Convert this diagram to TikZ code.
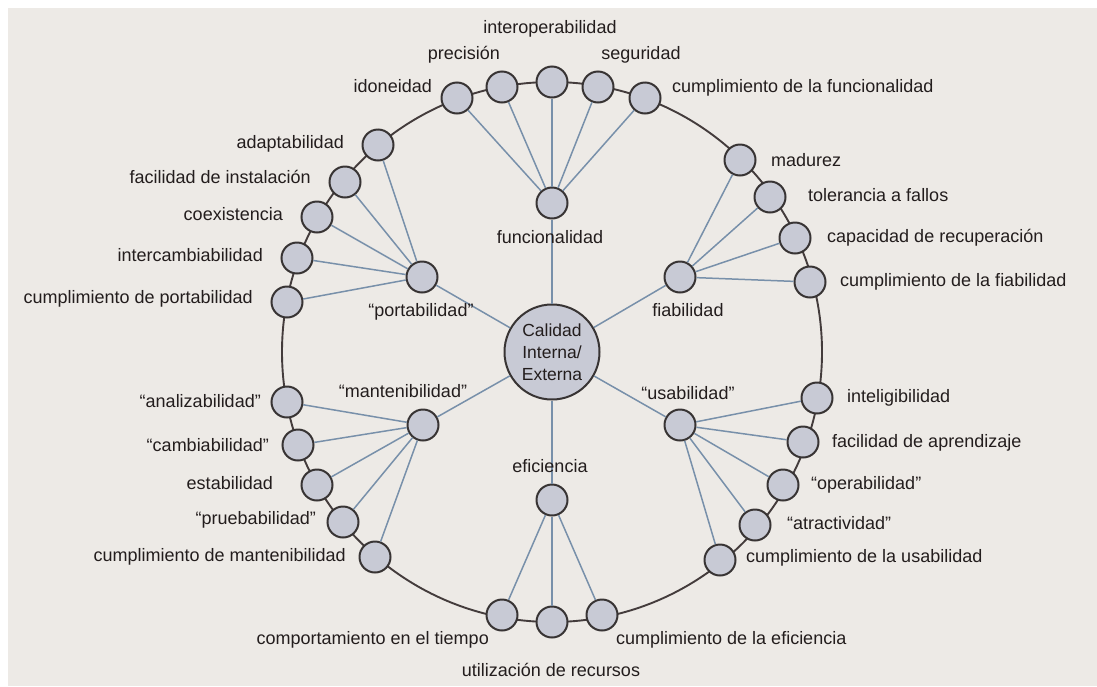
\documentclass[tikz,border=0pt]{standalone}
\usepackage{fontspec}
\setmainfont{Liberation Sans}
\definecolor{paper}{HTML}{EDEAE6}
\definecolor{nodefill}{HTML}{C8CAD5}
\definecolor{nodeedge}{HTML}{383434}
\definecolor{ringcol}{HTML}{443C3C}
\definecolor{spokecol}{HTML}{7890AA}
\definecolor{textcol}{HTML}{231D1D}
\begin{document}
\begin{tikzpicture}[x=1pt,y=-1pt,
  leaf/.style={circle,draw=nodeedge,fill=nodefill,line width=2pt,minimum size=31pt,inner sep=0pt},
  hub/.style={leaf},
  core/.style={circle,draw=nodeedge,fill=nodefill,line width=2pt,minimum size=95pt,inner sep=0pt,
    align=center,text=textcol,font=\fontsize{17.5}{22}\selectfont},
  spoke/.style={draw=spokecol,line width=1.5pt},
  ring/.style={draw=ringcol,line width=1.9pt},
  lbl/.style={font=\fontsize{18}{22}\selectfont,text=textcol,inner sep=0pt,text height=13pt,text depth=4pt},
]
% page and background
\useasboundingbox (0,0) rectangle (1097,686);
\fill[white] (0,0) rectangle (1097,686);
\fill[paper] (8,8) rectangle (1097,686);

% outer ring through all sub-characteristics
\draw[ring] (552,352) circle[radius=270pt];

% centre
\node[core] (core) at (552,352) {Calidad\\Interna/\\Externa};

% characteristics
\node[hub] (fun) at (552,203) {};
\node[hub] (fia) at (680,277) {};
\node[hub] (usa) at (680,425) {};
\node[hub] (efi) at (552,500) {};
\node[hub] (man) at (423,425) {};
\node[hub] (por) at (422,277) {};

% functionality
\node[leaf] (f1) at (457,98) {};
\node[leaf] (f2) at (502,87) {};
\node[leaf] (f3) at (552,82) {};
\node[leaf] (f4) at (598,87) {};
\node[leaf] (f5) at (645,98) {};
% reliability
\node[leaf] (r1) at (740,160) {};
\node[leaf] (r2) at (770,197) {};
\node[leaf] (r3) at (795,238) {};
\node[leaf] (r4) at (810,282) {};
% usability
\node[leaf] (u1) at (817,398) {};
\node[leaf] (u2) at (803,442) {};
\node[leaf] (u3) at (783,485) {};
\node[leaf] (u4) at (755,525) {};
\node[leaf] (u5) at (720,560) {};
% efficiency
\node[leaf] (e1) at (502,615) {};
\node[leaf] (e2) at (552,622) {};
\node[leaf] (e3) at (602,615) {};
% maintainability
\node[leaf] (m1) at (287,402) {};
\node[leaf] (m2) at (298,445) {};
\node[leaf] (m3) at (317,485) {};
\node[leaf] (m4) at (343,522) {};
\node[leaf] (m5) at (375,557) {};
% portability
\node[leaf] (p1) at (378,145) {};
\node[leaf] (p2) at (345,182) {};
\node[leaf] (p3) at (317,217) {};
\node[leaf] (p4) at (297,258) {};
\node[leaf] (p5) at (287,302) {};

% spokes
\foreach \h in {fun,fia,usa,efi,man,por} \draw[spoke] (core) -- (\h);
\foreach \l in {f1,f2,f3,f4,f5} \draw[spoke] (fun) -- (\l);
\foreach \l in {r1,r2,r3,r4} \draw[spoke] (fia) -- (\l);
\foreach \l in {u1,u2,u3,u4,u5} \draw[spoke] (usa) -- (\l);
\foreach \l in {e1,e2,e3} \draw[spoke] (efi) -- (\l);
\foreach \l in {m1,m2,m3,m4,m5} \draw[spoke] (man) -- (\l);
\foreach \l in {p1,p2,p3,p4,p5} \draw[spoke] (por) -- (\l);

% characteristic labels
\node[lbl] (tfun) at (550,239) {funcionalidad};
\node[lbl] (tfia) at (688,312) {fiabilidad};
\node[lbl] (tusa) at (688,395) {“usabilidad”};
\node[lbl] (tefi) at (550,468) {eficiencia};
\node[lbl] (tman) at (403,393) {“mantenibilidad”};
\node[lbl] (tpor) at (421,312) {“portabilidad”};

% sub-characteristic labels
\node[lbl,anchor=east] (tf1) at (432,88) {idoneidad};
\node[lbl] (tf2) at (464,55) {precisión};
\node[lbl] (tf3) at (550,29) {interoperabilidad};
\node[lbl] (tf4) at (641,55) {seguridad};
\node[lbl,anchor=west] (tf5) at (672,88) {cumplimiento de la funcionalidad};

\node[lbl,anchor=west] (tr1) at (771,162) {madurez};
\node[lbl,anchor=west] (tr2) at (808,197) {tolerancia a fallos};
\node[lbl,anchor=west] (tr3) at (827,238) {capacidad de recuperación};
\node[lbl,anchor=west] (tr4) at (840,282) {cumplimiento de la fiabilidad};

\node[lbl,anchor=west] (tu1) at (847,398) {inteligibilidad};
\node[lbl,anchor=west] (tu2) at (832,443) {facilidad de aprendizaje};
\node[lbl,anchor=west] (tu3) at (811,485) {“operabilidad”};
\node[lbl,anchor=west] (tu4) at (787,525) {“atractividad”};
\node[lbl,anchor=west] (tu5) at (746,558) {cumplimiento de la usabilidad};

\node[lbl,anchor=east] (te1) at (489,640) {comportamiento en el tiempo};
\node[lbl] (te2) at (551,672) {utilización de recursos};
\node[lbl,anchor=west] (te3) at (616,640) {cumplimiento de la eficiencia};

\node[lbl,anchor=east] (tm1) at (261,403) {“analizabilidad”};
\node[lbl,anchor=east] (tm2) at (269,447) {“cambiabilidad”};
\node[lbl,anchor=east] (tm3) at (273,485) {estabilidad};
\node[lbl,anchor=east] (tm4) at (316,520) {“pruebabilidad”};
\node[lbl,anchor=east] (tm5) at (346,557) {cumplimiento de mantenibilidad};

\node[lbl,anchor=east] (tp1) at (344,144) {adaptabilidad};
\node[lbl,anchor=east] (tp2) at (311,179) {facilidad de instalación};
\node[lbl,anchor=east] (tp3) at (283,216) {coexistencia};
\node[lbl,anchor=east] (tp4) at (263,257) {intercambiabilidad};
\node[lbl,anchor=east] (tp5) at (253,299) {cumplimiento de portabilidad};
\end{tikzpicture}
\end{document}
